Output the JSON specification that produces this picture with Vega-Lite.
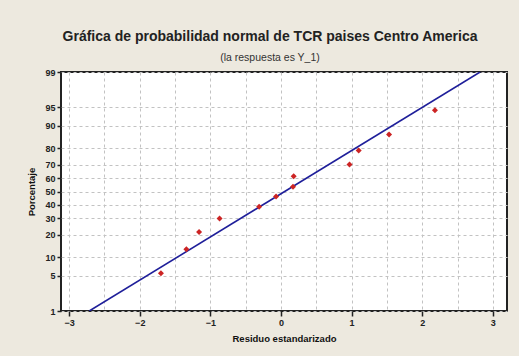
{
  "$schema": "https://vega.github.io/schema/vega-lite/v6.json",
  "width": 446,
  "height": 239,
  "autosize": {"type": "none"},
  "padding": {"left": 61, "top": 72, "right": 12, "bottom": 45},
  "background": "#ede9df",
  "config": {
    "view": {"stroke": "#222222", "strokeWidth": 2, "fill": "#ffffff"},
    "axis": {
      "domain": false,
      "labelFont": "Liberation Sans",
      "labelFontWeight": "bold",
      "labelFontSize": 9,
      "labelColor": "#222222",
      "labelOverlap": false,
      "titleFont": "Liberation Sans",
      "titleFontWeight": "bold",
      "titleFontSize": 9.5,
      "titleColor": "#111111",
      "tickColor": "#222222",
      "tickWidth": 1.5,
      "gridColor": "#c2c2c2",
      "gridDash": [3, 3],
      "gridWidth": 1
    }
  },
  "title": {
    "text": "Gráfica de probabilidad normal de TCR paises Centro America",
    "subtitle": "(la respuesta es Y_1)",
    "font": "Liberation Sans",
    "fontSize": 14,
    "fontWeight": "bold",
    "color": "#222222",
    "subtitleFont": "Liberation Sans",
    "subtitleFontSize": 10.5,
    "subtitleColor": "#333333",
    "subtitlePadding": 9,
    "anchor": "middle",
    "frame": "group",
    "dx": -14,
    "offset": 5
  },
  "datasets": {
    "points": [
      {"residuo": -1.70, "pct": 5.6},
      {"residuo": -1.34, "pct": 13.0},
      {"residuo": -1.16, "pct": 21.5},
      {"residuo": -0.87, "pct": 30.0},
      {"residuo": -0.31, "pct": 38.3},
      {"residuo": -0.07, "pct": 46.2},
      {"residuo": 0.17, "pct": 53.6},
      {"residuo": 0.18, "pct": 61.6},
      {"residuo": 0.97, "pct": 70.1},
      {"residuo": 1.10, "pct": 78.8},
      {"residuo": 1.53, "pct": 86.6},
      {"residuo": 2.18, "pct": 94.3}
    ],
    "fit": [
      {"residuo": -2.715, "pct": 1},
      {"residuo": 2.819, "pct": 99}
    ]
  },
  "layer": [
    {
      "data": {"name": "fit"},
      "transform": [{"calculate": "quantileNormal(datum.pct / 100)", "as": "z"}],
      "mark": {"type": "line", "color": "#1f1f9a", "strokeWidth": 1.6, "clip": true},
      "encoding": {
        "x": {
          "field": "residuo",
          "type": "quantitative",
          "scale": {"domain": [-3.115, 3.2], "nice": false, "zero": false},
          "axis": {
            "title": "Residuo estandarizado",
            "values": [-3, -2.5, -2, -1.5, -1, -0.5, 0, 0.5, 1, 1.5, 2, 2.5, 3],
            "tickCount": 30,
            "labelExpr": "datum.value % 1 === 0 ? format(datum.value, 'd') : ''",
            "tickOpacity": {"condition": {"test": "datum.value % 1 === 0", "value": 1}, "value": 0},
            "tickSize": 5,
            "labelPadding": 2,
            "titlePadding": 6,
            "grid": true
          }
        },
        "y": {
          "field": "z",
          "type": "quantitative",
          "scale": {"domain": [-2.3263, 2.3263], "nice": false, "zero": false},
          "axis": {
            "title": "Porcentaje",
            "values": [-2.3263, -1.6449, -1.2816, -0.8416, -0.5244, -0.2533, 0, 0.2533, 0.5244, 0.8416, 1.2816, 1.6449, 2.3263],
            "tickCount": 30,
            "labelExpr": "format(cumulativeNormal(datum.value) * 100, '.0f')",
            "tickSize": 4,
            "labelPadding": 2,
            "titlePadding": 8,
            "grid": true
          }
        }
      }
    },
    {
      "data": {"name": "points"},
      "transform": [{"calculate": "quantileNormal(datum.pct / 100)", "as": "z"}],
      "mark": {"type": "point", "shape": "diamond", "filled": true, "color": "#cc2424", "size": 36, "opacity": 1},
      "encoding": {
        "x": {"field": "residuo", "type": "quantitative"},
        "y": {"field": "z", "type": "quantitative"}
      }
    }
  ]
}
